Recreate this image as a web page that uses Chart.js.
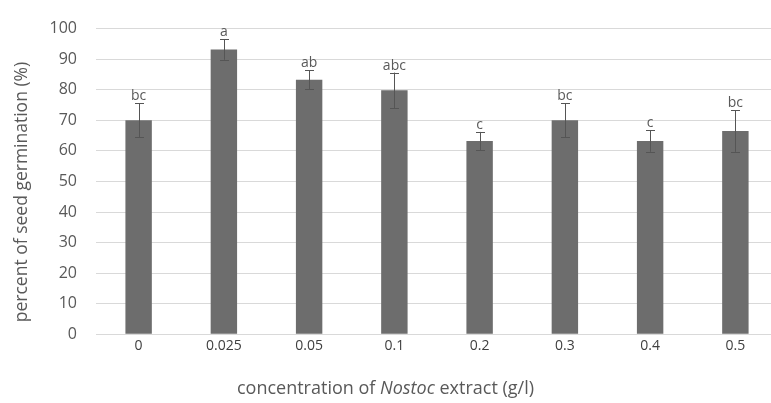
<!DOCTYPE html>
<html>
<head>
<meta charset="utf-8">
<script src="https://cdn.jsdelivr.net/npm/chart.js@4/dist/chart.umd.min.js"></script>
<style>
html,body{margin:0;padding:0;background:#fff;overflow:hidden;width:771px;height:403px;}
#wrap{position:relative;width:780px;height:403px;}
</style>
</head>
<body>
<div id="wrap"><canvas id="c" width="780" height="403"></canvas></div>
<script>
const categories = ["0", "0.025", "0.05", "0.1", "0.2", "0.3", "0.4", "0.5"];
const germination = [70, 93.2, 83.3, 79.8, 63.2, 70, 63.2, 66.5];
const errorValues = [5.6, 3.4, 3.1, 5.8, 3.0, 5.5, 3.5, 6.8];
const groupLetters = ["bc", "a", "ab", "abc", "c", "bc", "c", "bc"];
const yTicks = [0, 10, 20, 30, 40, 50, 60, 70, 80, 90, 100];
const xTitleParts = [["concentration of ", "normal"], ["Nostoc", "italic"], [" extract (g/l)", "normal"]];
const yTitle = "percent of seed germination (%)";

const FONT = "'Open Sans', sans-serif";

const extras = {
  id: 'extras',
  afterDatasetsDraw(chart) {
    const ctx = chart.ctx;
    const meta = chart.getDatasetMeta(0);
    const y = chart.scales.y;
    ctx.save();
    meta.data.forEach((bar, i) => {
      const x = Math.round(bar.x) + 0.5;
      const hi = y.getPixelForValue(germination[i] + errorValues[i]);
      const lo = y.getPixelForValue(germination[i] - errorValues[i]);
      ctx.strokeStyle = '#555555';
      ctx.lineWidth = 1;
      ctx.beginPath();
      ctx.moveTo(x, hi); ctx.lineTo(x, lo);
      ctx.moveTo(x - 4.5, Math.round(hi) + 0.5); ctx.lineTo(x + 4.5, Math.round(hi) + 0.5);
      ctx.moveTo(x - 4.5, Math.round(lo) + 0.5); ctx.lineTo(x + 4.5, Math.round(lo) + 0.5);
      ctx.stroke();
      ctx.fillStyle = '#595959';
      ctx.font = "14px " + FONT;
      ctx.textAlign = 'center';
      ctx.textBaseline = 'bottom';
      ctx.fillText(groupLetters[i], bar.x, hi);
    });
    ctx.restore();
  },
  afterDraw(chart) {
    const ctx = chart.ctx;
    ctx.save();
    ctx.fillStyle = '#595959';
    ctx.textBaseline = 'middle';
    let total = 0;
    const widths = xTitleParts.map(([t, s]) => {
      ctx.font = (s === 'italic' ? 'italic ' : '') + "18px " + FONT;
      const w = ctx.measureText(t).width; total += w; return w;
    });
    let xx = 385.5 - total / 2;
    ctx.textAlign = 'left';
    xTitleParts.forEach(([t, s], i) => {
      ctx.font = (s === 'italic' ? 'italic ' : '') + "18px " + FONT;
      ctx.fillText(t, xx, 389);
      xx += widths[i];
    });
    ctx.translate(22, 192);
    ctx.rotate(-Math.PI / 2);
    ctx.textAlign = 'center';
    ctx.font = "17.5px " + FONT;
    ctx.fillText(yTitle, 0, 0);
    ctx.restore();
  }
};

new Chart(document.getElementById('c'), {
  type: 'bar',
  data: {
    labels: categories,
    datasets: [{
      data: germination,
      backgroundColor: '#6d6d6d',
      borderWidth: 0,
      barPercentage: 1,
      categoryPercentage: 0.31
    }]
  },
  options: {
    responsive: false,
    animation: false,
    devicePixelRatio: 1,
    layout: { padding: { top: 14, right: 2, bottom: 0, left: 0 } },
    plugins: { legend: { display: false }, tooltip: { enabled: false } },
    scales: {
      x: {
        grid: { display: false, drawTicks: false },
        border: { display: true, color: '#d9d9d9', width: 1 },
        ticks: { color: '#404040', font: { family: FONT, size: 14 }, padding: 3, maxRotation: 0 },
        afterFit(s) { s.height = 68.7; }
      },
      y: {
        min: 0, max: 100,
        afterBuildTicks(s) { s.ticks = yTicks.map(v => ({ value: v })); },
        grid: { color: '#d9d9d9', lineWidth: 1, drawTicks: false },
        border: { display: false },
        ticks: { color: '#595959', font: { family: FONT, size: 16 }, padding: 19 },
        afterFit(s) { s.width = 96; }
      }
    }
  },
  plugins: [extras]
});
</script>
</body>
</html>
